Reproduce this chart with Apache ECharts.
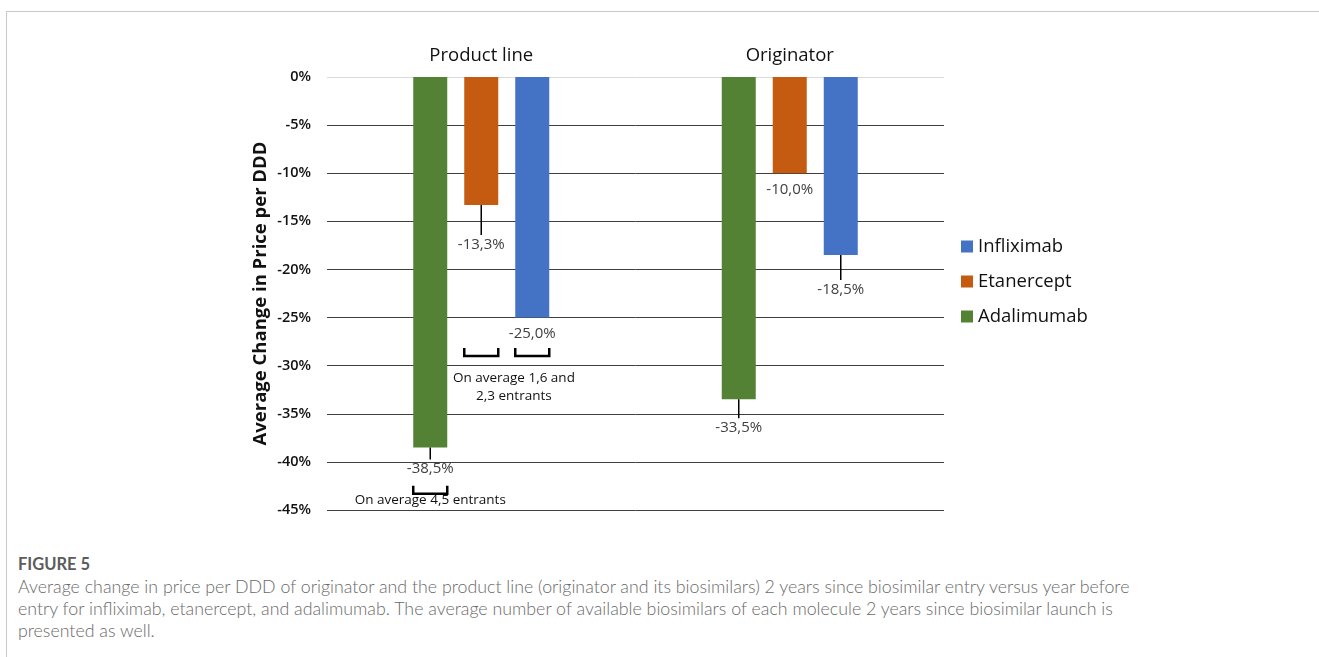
<!DOCTYPE html>
<html>
<head>
<meta charset="utf-8">
<script src="https://cdn.jsdelivr.net/npm/echarts@6/dist/echarts.min.js"></script>
<style>
body { margin: 0; background: #fff; }
#frame {
  position: absolute; left: 6px; top: 11px; right: -10px; bottom: -10px;
  border-left: 1px solid #c9c9c9; border-top: 1px solid #c9c9c9;
}
#chart { position: absolute; left: 0; top: 0; width: 1319px; height: 540px; }
#caption {
  position: absolute; left: 18px; top: 553px;
  font-family: Lato, "Open Sans", sans-serif; color: #6a6a6a;
}
#caption .fig { font-size: 16.5px; font-weight: 700; color: #5c5c5c; line-height: 22px; }
#caption .txt { font-size: 17.8px; font-weight: 300; line-height: 22px; white-space: nowrap; }
</style>
</head>
<body>
<div id="frame"></div>
<div id="chart"></div>
<div id="caption">
  <div class="fig">FIGURE 5</div>
  <div class="txt">Average change in price per DDD of originator and the product line (originator and its biosimilars) 2 years since biosimilar entry versus year before<br>entry for infliximab, etanercept, and adalimumab. The average number of available biosimilars of each molecule 2 years since biosimilar launch is<br>presented as well.</div>
</div>
<script>
// 类别与数值
const categories = ['Product line', 'Originator']
const seriesNames = ['Adalimumab', 'Etanercept', 'Infliximab']
const adalimumab = [-38.5, -33.5]
const etanercept = [-13.3, -10.0]
const infliximab = [-25.0, -18.5]
const legendOrder = ['Infliximab', 'Etanercept', 'Adalimumab']
const yMin = -45
const yMax = 0
const yStep = 5

// 标注：括号与说明文字
const bracketCat = [0, 0, 0]
const bracketBar = [0, 1, 2]
const bracketValue = [-43.3, -29.0, -29.0]
const noteText = ['On average 4,5 entrants', 'On average 1,6 and\n2,3 entrants']
const noteCat = [0, 0]
const noteBar = [0, 1.64]
const noteValue = [-44.0, -32.2]

// 样式
const colors = ['#548235', '#C55A11', '#4472C4']
const leaderLen = [[12, 19], [30, 0], [0, 25]] // 引导线长度 px
const BAR_W = 34
const BAR_GAP = 17
const FONT = '"Open Sans", sans-serif'

const values = [adalimumab, etanercept, infliximab]
const fmt = v => v.toFixed(1).replace('.', ',') + '%'
const barX = (api, cat, idx) => api.coord([cat, 0])[0] + (idx - 1) * (BAR_W + BAR_GAP)

const labelData = []
values.forEach((arr, s) => {
  arr.forEach((v, c) => { labelData.push([c, v, s, leaderLen[s][c]]) })
})
const bracketData = bracketCat.map((c, i) => [c, bracketValue[i], bracketBar[i]])
const noteData = noteCat.map((c, i) => [c, noteValue[i], noteBar[i], i])

const splitColors = []
for (let v = yMin; v <= yMax; v += yStep) splitColors.push(v === 0 ? '#d9d9d9' : '#3f3f3f')

const myEchart = echarts.init(document.getElementById('chart'))
const option = {
  animation: false,
  textStyle: { fontFamily: FONT },
  legend: {
    orient: 'vertical',
    left: 956,
    top: 232,
    itemWidth: 12,
    itemHeight: 12,
    itemGap: 16,
    icon: 'rect',
    textStyle: { fontSize: 18.5, color: '#111', fontFamily: FONT },
    data: legendOrder
  },
  grid: { left: 327, right: 375, top: 77, bottom: 30 },
  xAxis: {
    type: 'category',
    position: 'top',
    data: categories,
    axisLine: { show: false },
    axisTick: { show: false },
    axisLabel: { fontSize: 18.5, color: '#111', margin: 12, fontFamily: FONT }
  },
  yAxis: {
    type: 'value',
    min: yMin,
    max: yMax,
    interval: yStep,
    name: 'Average Change in Price per DDD',
    nameLocation: 'middle',
    nameGap: 57,
    nameTextStyle: { fontSize: 18.5, fontWeight: 'bold', color: '#111', fontFamily: FONT },
    axisLine: { show: false },
    axisTick: { show: false },
    axisLabel: { formatter: '{value}%', fontSize: 14.5, color: '#111', fontWeight: 600, margin: 16, fontFamily: FONT },
    splitLine: { lineStyle: { color: splitColors, width: 1 } }
  },
  series: seriesNames.map((name, s) => ({
    name: name,
    type: 'bar',
    barWidth: BAR_W,
    barGap: (BAR_GAP / BAR_W * 100) + '%',
    itemStyle: { color: colors[s] },
    data: values[s],
    z: 2
  })).concat([
    {
      name: 'labels',
      type: 'custom',
      data: labelData,
      encode: { x: 0, y: 1 },
      z: 5,
      clip: false,
      renderItem (params, api) {
        const cat = api.value(0)
        const v = api.value(1)
        const s = api.value(2)
        const len = api.value(3)
        const x = barX(api, cat, s)
        const y = api.coord([cat, v])[1]
        const children = []
        if (len > 0) {
          children.push({ type: 'line', shape: { x1: x, y1: y, x2: x, y2: y + len }, style: { stroke: '#000', lineWidth: 1.5 } })
        }
        children.push({
          type: 'text',
          x: x,
          y: y + len + (len ? 2 : 9),
          style: { text: fmt(v), align: 'center', verticalAlign: 'top', fill: '#404040', font: '15px ' + FONT }
        })
        return { type: 'group', children }
      }
    },
    {
      name: 'brackets',
      type: 'custom',
      data: bracketData,
      encode: { x: 0, y: 1 },
      z: 5,
      renderItem (params, api) {
        const cat = api.value(0)
        const x = barX(api, cat, api.value(2))
        const y = api.coord([cat, api.value(1)])[1]
        const h = 8
        const w = BAR_W / 2
        return {
          type: 'polyline',
          shape: { points: [[x - w, y - h], [x - w, y], [x + w, y], [x + w, y - h]] },
          style: { stroke: '#000', lineWidth: 2.5, fill: null }
        }
      }
    },
    {
      name: 'notes',
      type: 'custom',
      data: noteData,
      encode: { x: 0, y: 1 },
      z: 5,
      renderItem (params, api) {
        const cat = api.value(0)
        const x = barX(api, cat, api.value(2))
        const y = api.coord([cat, api.value(1)])[1]
        return {
          type: 'text',
          x: x,
          y: y,
          style: { text: noteText[api.value(3)], align: 'center', verticalAlign: 'middle', fill: '#111', font: '13.5px ' + FONT, lineHeight: 18 }
        }
      }
    }
  ])
}
myEchart.setOption(option)
window.onresize = () => {
  myEchart.resize()
}
</script>
</body>
</html>
